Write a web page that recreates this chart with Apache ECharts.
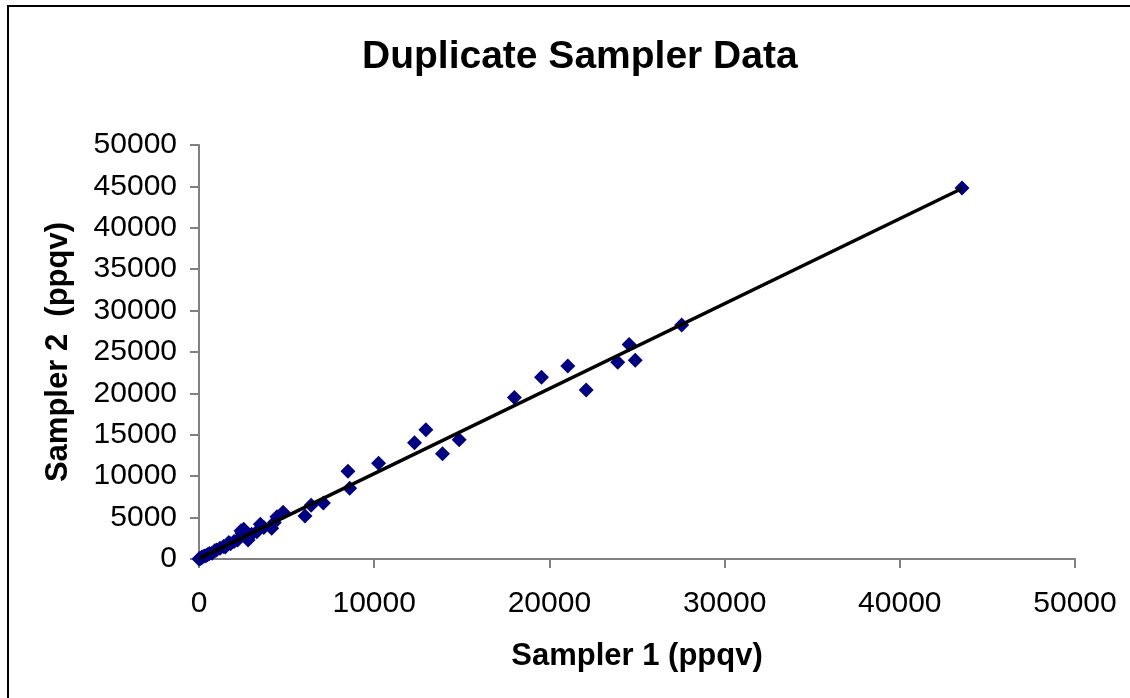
<!DOCTYPE html>
<html>
<head>
<meta charset="utf-8">
<script src="https://cdn.jsdelivr.net/npm/echarts@6/dist/echarts.min.js"></script>
<style>
html,body{margin:0;padding:0;background:#fff;overflow:hidden;}
#wrap{position:relative;width:1130px;height:698px;overflow:hidden;}
#chart{position:absolute;left:0;top:0;width:1130px;height:698px;}
#frame{position:absolute;left:7px;top:4.5px;width:1400px;height:900px;border-left:2px solid #000;border-top:2px solid #000;pointer-events:none;}
</style>
</head>
<body>
<div id="wrap"><div id="chart"></div><div id="frame"></div></div>
<script>
const titleText = 'Duplicate Sampler Data';
const xName = 'Sampler 1 (ppqv)';
const yName = 'Sampler 2  (ppqv)';
const sampler1 = [0, 50, 100, 150, 200, 300, 400, 500, 600, 750, 900, 1000, 1200, 1400, 1500, 1700, 1800, 2000, 2200, 2400, 2450, 2550, 2800, 3000, 3300, 3500, 3700, 4150, 4300, 4450, 4800, 6050, 6400, 7100, 8500, 8600, 10250, 12300, 12950, 13900, 14850, 18000, 19550, 21050, 22100, 23900, 24550, 24900, 27550, 43550];
const sampler2 = [0, 80, 60, 200, 250, 350, 380, 550, 650, 700, 1000, 1100, 1300, 1500, 1450, 2000, 1850, 2100, 2300, 3400, 3100, 3600, 2300, 3000, 3300, 4200, 3800, 3700, 4400, 5100, 5650, 5200, 6500, 6750, 10600, 8550, 11550, 14050, 15600, 12700, 14400, 19500, 21950, 23300, 20400, 23750, 25900, 24000, 28250, 44800];
const trendX = [0, 43550];
const trendY = [50, 44750];

const points = sampler1.map((v, i) => [v, sampler2[i]]);
const trend = trendX.map((v, i) => [v, trendY[i]]);

const chart = echarts.init(document.getElementById('chart'));
const font = 'Arial, "Liberation Sans", sans-serif';
const axisGray = '#808080';
const plain = v => String(v);
chart.setOption({
  animation: false,
  backgroundColor: '#ffffff',
  title: {
    text: titleText,
    left: 357,
    top: 33,
    textStyle: {fontFamily: font, fontSize: 39, fontWeight: 'bold', color: '#000'}
  },
  grid: {left: 199, right: 55, top: 145, bottom: 139, containLabel: false},
  xAxis: {
    type: 'value', min: 0, max: 50000, interval: 10000,
    name: xName, nameLocation: 'middle', nameGap: 82,
    nameTextStyle: {fontFamily: font, fontSize: 31, fontWeight: 'bold', color: '#000'},
    axisLine: {show: true, onZero: false, lineStyle: {color: axisGray, width: 2}},
    axisTick: {show: true, inside: false, length: 9, lineStyle: {color: axisGray, width: 2}},
    axisLabel: {fontFamily: font, fontSize: 30, color: '#000', margin: 30, formatter: plain},
    splitLine: {show: false}
  },
  yAxis: {
    type: 'value', min: 0, max: 50000, interval: 5000,
    name: yName, nameLocation: 'middle', nameGap: 125, nameRotate: 90,
    nameTextStyle: {fontFamily: font, fontSize: 31, fontWeight: 'bold', color: '#000'},
    axisLine: {show: true, onZero: false, lineStyle: {color: axisGray, width: 2}},
    axisTick: {show: true, inside: false, length: 9, lineStyle: {color: axisGray, width: 2}},
    axisLabel: {fontFamily: font, fontSize: 30, color: '#000', margin: 22, formatter: plain},
    splitLine: {show: false}
  },
  series: [
    {
      type: 'scatter',
      data: points,
      symbol: 'diamond',
      symbolSize: 15,
      itemStyle: {color: '#000080', opacity: 1},
      z: 2
    },
    {
      type: 'line',
      data: trend,
      showSymbol: false,
      symbol: 'none',
      lineStyle: {color: '#000', width: 3.5},
      z: 3
    }
  ]
});
</script>
</body>
</html>
